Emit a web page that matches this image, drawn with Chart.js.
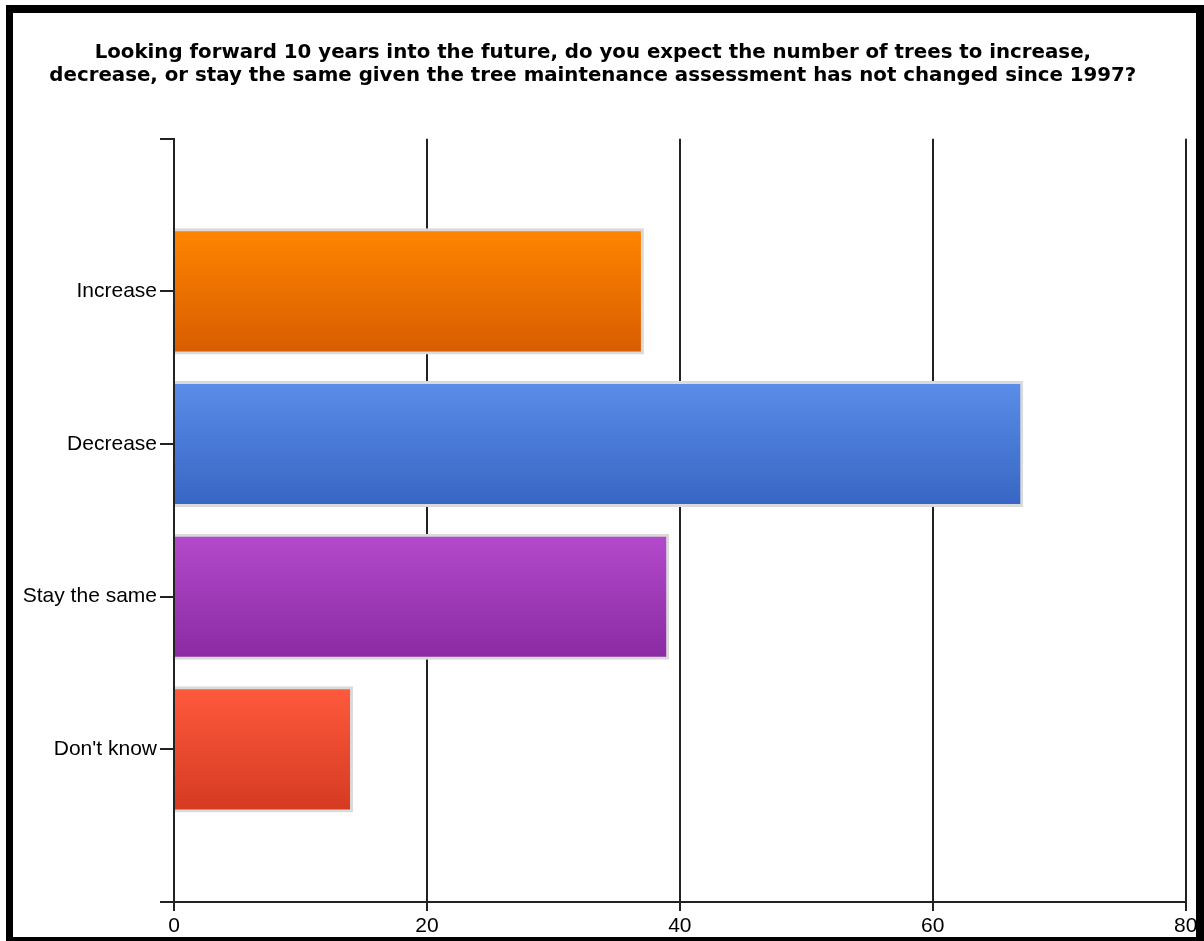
<!DOCTYPE html>
<html><head><meta charset="utf-8">
<script src="https://cdn.jsdelivr.net/npm/chart.js@4/dist/chart.umd.min.js"></script>
<style>
html,body{margin:0;padding:0;background:#fff;overflow:hidden;width:1204px;height:941px;}
#wrap{position:absolute;left:0;top:0;width:1204px;height:941px;}
#frame{position:absolute;left:6px;top:5px;width:1198px;height:940px;box-sizing:border-box;border-style:solid;border-color:#000;border-width:8px 8px 8px 7px;pointer-events:none;}
</style></head><body>
<div id="wrap"><canvas id="c" width="1204" height="941"></canvas></div>
<div id="frame"></div>
<script>
const titleLines = [
  'Looking forward 10 years into the future, do you expect the number of trees to increase,',
  'decrease, or stay the same given the tree maintenance assessment has not changed since 1997?'
];
const categories = ['Increase', 'Decrease', 'Stay the same', "Don't know"];
const responses = [37, 67, 39, 14];
const xTicks = [0, 20, 40, 60, 80];
const topColors = ['#FF8500', '#5B8DE9', '#B44ACC', '#FF5A3D'];
const bottomColors = ['#D75C00', '#3765C3', '#8A2AA2', '#D43A21'];

// pad one empty slot above and below the categories (as in the reference axis)
const labels = [''].concat(categories, ['']);
const values = [null].concat(responses, [null]);
const barPct = 0.8;
const inflate = 2;

function gradientFor(ctx) {
  const chart = ctx.chart;
  const i = ctx.dataIndex;
  const k = i - 1;
  if (i == null || !chart.chartArea || !topColors[k]) return '#cccccc';
  const ys = chart.scales.y;
  const c = ys.getPixelForValue(i);
  const slot = Math.abs(ys.getPixelForValue(1) - ys.getPixelForValue(0));
  const half = slot * barPct / 2 + inflate;
  const g = chart.ctx.createLinearGradient(0, c - half, 0, c + half);
  g.addColorStop(0, topColors[k]);
  g.addColorStop(1, bottomColors[k]);
  return g;
}

new Chart(document.getElementById('c'), {
  type: 'bar',
  data: {
    labels: labels,
    datasets: [{
      data: values,
      backgroundColor: gradientFor,
      borderColor: '#dadada',
      borderWidth: 3,
      borderSkipped: 'start',
      inflateAmount: inflate,
      barPercentage: barPct,
      categoryPercentage: 1
    }]
  },
  options: {
    indexAxis: 'y',
    responsive: false,
    animation: false,
    devicePixelRatio: 1,
    layout: { padding: { left: 0, right: 18.3, top: 0, bottom: 0 } },
    plugins: {
      legend: { display: false },
      tooltip: { enabled: false },
      title: {
        display: true,
        text: titleLines,
        color: '#000',
        font: { family: 'DejaVu Sans', weight: 'bold', size: 19.8, lineHeight: 1.18 },
        padding: { top: 41, bottom: 51 }
      }
    },
    scales: {
      x: {
        type: 'linear',
        min: xTicks[0],
        max: xTicks[xTicks.length - 1],
        afterFit: (s) => { s.height = 39; },
        ticks: {
          stepSize: xTicks[1] - xTicks[0],
          color: '#000',
          padding: 3,
          font: { family: 'Liberation Sans, Arial', size: 21 }
        },
        grid: { color: '#222', lineWidth: 2, tickLength: 9, drawTicks: true },
        border: { display: true, color: '#222', width: 2 }
      },
      y: {
        type: 'category',
        offset: false,
        z: 1,
        afterFit: (s) => { s.width = 174; },
        ticks: {
          autoSkip: false,
          color: '#000',
          padding: 3,
          font: { family: 'Liberation Sans, Arial', size: 21 }
        },
        grid: { offset: false, drawOnChartArea: false, drawTicks: true, tickLength: 14, color: '#222', lineWidth: 2 },
        border: { display: true, color: '#222', width: 2 }
      }
    }
  }
});
</script>
</body></html>
